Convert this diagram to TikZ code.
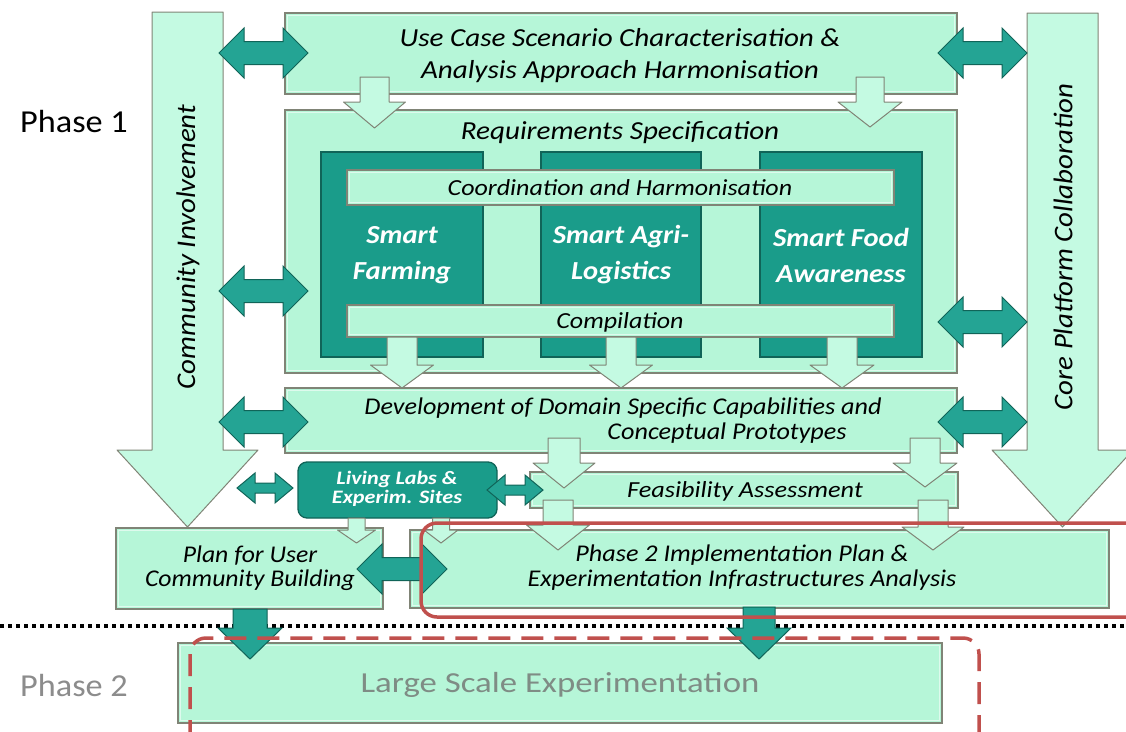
\documentclass[tikz,border=0pt]{standalone}
\usepackage{fontspec}
\setmainfont{Carlito}
\usetikzlibrary{fit}
\definecolor{mint}{RGB}{182,246,216}
\definecolor{mintarr}{RGB}{196,250,226}
\definecolor{mintedge}{RGB}{128,132,118}
\definecolor{tealbox}{RGB}{26,156,138}
\definecolor{tealedge}{RGB}{16,100,88}
\definecolor{tealarr}{RGB}{36,164,148}
\definecolor{redline}{RGB}{192,80,77}
\definecolor{phasegray}{RGB}{140,140,140}
\definecolor{lsgray}{RGB}{127,140,133}
\tikzset{
  lbox/.style={draw=mintedge, fill=mint, line width=1.3pt, inner sep=0pt, outer sep=0pt},
  dbox/.style={draw=tealedge, fill=tealbox, line width=1.3pt, inner sep=0pt, outer sep=0pt},
  larrow/.style={draw=mintedge, fill=mintarr, line width=1pt, line join=round},
  darrow/.style={draw=tealedge, fill=tealarr, line width=1pt, line join=miter},
  bevel/.style={white, opacity=0.55, line width=1pt},
  txt/.style={font=\fontsize{24}{25}\selectfont\itshape, align=center, inner sep=0pt, text=black},
  wtxt/.style={font=\fontsize{26}{36}\selectfont\bfseries\itshape, align=center, inner sep=0pt, text=white, xscale=1.1},
  uptxt/.style={font=\fontsize{32}{34}\selectfont, align=center, inner sep=0pt, xscale=1.07},
}
\newcommand\mkdown[7]{%
  \draw[#7] ({#1-#3},#2) -- ({#1+#3},#2) -- ({#1+#3},#4) -- ({#1+#5},#4) -- (#1,#6) -- ({#1-#5},#4) -- ({#1-#3},#4) -- cycle;}
\newcommand\mkdbl[7]{%
  \draw[#7] (#1,#3) -- ({#1+#4},{#3-#5}) -- ({#1+#4},{#3-#6}) -- ({#2-#4},{#3-#6}) -- ({#2-#4},{#3-#5}) -- (#2,#3) -- ({#2-#4},{#3+#5}) -- ({#2-#4},{#3+#6}) -- ({#1+#4},{#3+#6}) -- ({#1+#4},{#3+#5}) -- cycle;}
\newcommand\bev[1]{%
  \draw[bevel] ([shift={(2.5,2.5)}]#1.north west) rectangle ([shift={(-2.5,-2.5)}]#1.south east);}
\begin{document}
\begin{tikzpicture}[x=1pt,y=-1pt]
\useasboundingbox (0,0) rectangle (1126,731);
% big side arrows
\mkdown{187.5}{12}{35.5}{450}{70.5}{527}{larrow}
\mkdown{1062.5}{13}{35.5}{450}{70.5}{527}{larrow}
% boxes
\node[lbox, fit={(285,13) (957,94)}] (uc) {}; \bev{uc}
\node[lbox, fit={(285,110) (957,373)}] (req) {}; \bev{req}
\node[dbox, fit={(321,152) (483,357)}] (sf) {};
\node[dbox, fit={(541,152) (701,357)}] (sa) {};
\node[dbox, fit={(760,152) (922,357)}] (sfa) {};
\node[lbox, fit={(347,170) (894,205)}] (coord) {}; \bev{coord}
\node[lbox, fit={(347,305) (894,337)}] (comp) {}; \bev{comp}
\node[lbox, fit={(285,388) (957,453)}] (dev) {}; \bev{dev}
\node[lbox, fit={(530,472) (958,508)}] (feas) {}; \bev{feas}
\node[lbox, fit={(116,528) (383,609)}] (plan) {}; \bev{plan}
\node[lbox, fit={(410,530) (1109,608)}] (p2) {}; \bev{p2}
\node[lbox, fit={(178,643) (942,723)}] (ls) {}; \bev{ls}
\node[dbox, rounded corners=9pt, fit={(298,462) (497,518)}] (ll) {};
% light down arrows
\mkdown{374.5}{77}{14.5}{102}{31}{128}{larrow}
\mkdown{870}{77}{14}{102}{32}{127}{larrow}
\mkdown{402}{337}{15}{365}{31.5}{388}{larrow}
\mkdown{621}{337}{15}{365}{31.5}{388}{larrow}
\mkdown{842}{337}{15}{365}{32}{388}{larrow}
\mkdown{564}{438}{16}{463}{31}{488}{larrow}
\mkdown{925}{438}{15}{463}{32}{487}{larrow}
\mkdown{558}{500}{15}{525}{31.5}{550}{larrow}
\mkdown{933}{500}{15}{527}{31}{550}{larrow}
\mkdown{356.5}{518}{8.5}{530}{19}{543}{larrow}
\mkdown{441}{518}{8.5}{530}{17}{543}{larrow}
% double arrows
\mkdbl{219}{308}{53}{25}{25}{11.5}{darrow}
\mkdbl{219}{308}{291}{25}{25}{11.5}{darrow}
\mkdbl{219}{308}{422}{25}{25}{11.5}{darrow}
\mkdbl{938}{1027}{53}{25}{25}{11.5}{darrow}
\mkdbl{938}{1027}{322}{25}{25}{11.5}{darrow}
\mkdbl{938}{1027}{422}{25}{25}{11.5}{darrow}
\mkdbl{357}{447}{569}{25}{25}{11.5}{darrow}
\mkdbl{237}{293}{488}{18}{15}{5}{darrow}
\mkdbl{487}{543}{490}{18}{15}{5}{darrow}
% phase separator
\draw[black, line width=4pt, dash pattern=on 4pt off 4pt] (0,626) -- (1126,626);
% dark down arrows
\mkdown{250}{609}{17}{628}{32}{659}{darrow}
\mkdown{759}{607}{16}{628}{32}{659}{darrow}
% red outlines
\draw[redline, line width=3.5pt, rounded corners=16pt] (421,523) rectangle (1170,617);
\draw[redline, line width=3.5pt, rounded corners=16pt, dash pattern=on 22pt off 11pt] (190,638) rectangle (979,770);
% texts
\node[txt, font=\fontsize{26}{32}\selectfont\itshape, xscale=1.12] (tuc) at (620,56) {Use Case Scenario Characterisation \&\\Analysis Approach Harmonisation};
\node[txt, font=\fontsize{26}{28}\selectfont\itshape, xscale=1.12] (treq) at (620,133) {Requirements Specification};
\node[txt, font=\fontsize{23}{25}\selectfont\itshape, xscale=1.13] (tcoord) at (620,188) {Coordination and Harmonisation};
\node[wtxt] (tsf) at (402,255) {Smart\\Farming};
\node[wtxt] (tsa) at (621,255) {Smart Agri-\\Logistics};
\node[wtxt] (tsfa) at (841,255) {Smart Food\\Awareness};
\node[txt, font=\fontsize{23}{25}\selectfont\itshape, xscale=1.13] (tcomp) at (620,322) {Compilation};
\node[txt, xscale=1.09] (tdev1) at (623,408) {Development of Domain Specific Capabilities and};
\node[txt, xscale=1.09] (tdev2) at (727,433) {Conceptual Prototypes};
\node[txt, font=\fontsize{23}{25}\selectfont\itshape, xscale=1.14] (tfeas) at (745,491) {Feasibility Assessment};
\node[wtxt, font=\fontsize{19}{19}\selectfont\bfseries\itshape, xscale=1.06] (tll) at (397,489) {Living Labs \&\\Experim. Sites};
\node[txt, font=\fontsize{24}{24}\selectfont\itshape, xscale=1.07] (tplan) at (250,568) {Plan for User\\Community Building};
\node[txt, xscale=1.09] (tp2) at (742,568) {Phase 2 Implementation Plan \&\\Experimentation Infrastructures Analysis};
\node[inner sep=0pt, font=\fontsize{29}{32}\selectfont\mdseries\upshape, text=lsgray, xscale=1.2] (tls) at (560,685) {Large Scale Experimentation};
\node[uptxt] (tph1) at (74,122) {Phase 1};
\node[uptxt, text=phasegray] (tph2) at (74,685) {Phase 2};
\node[txt, font=\fontsize{27}{28}\selectfont\itshape, rotate=90] (tci) at (188,247) {\scalebox{1.07}[1]{Community Involvement}};
\node[txt, font=\fontsize{27}{28}\selectfont\itshape, rotate=90] (tcp) at (1063,247) {\scalebox{1.07}[1]{Core Platform Collaboration}};
\end{tikzpicture}
\end{document}
